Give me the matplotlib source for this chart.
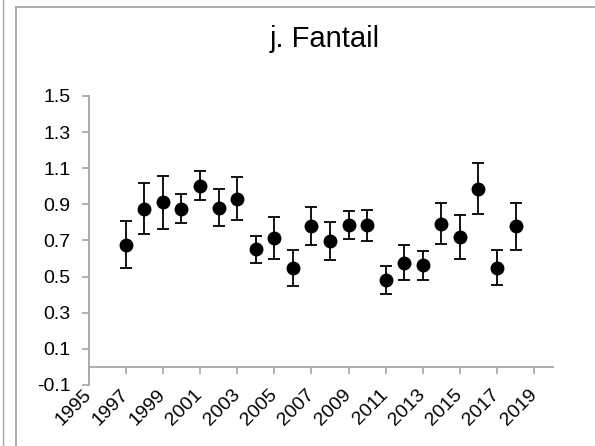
import matplotlib.pyplot as plt
from matplotlib.lines import Line2D

plt.rcParams['font.family'] = ['Liberation Sans', 'DejaVu Sans']

# annual index for fantail with error (half-width of bars)
years = [1997, 1998, 1999, 2000, 2001, 2002, 2003, 2004, 2005, 2006, 2007,
         2008, 2009, 2010, 2011, 2012, 2013, 2014, 2015, 2016, 2017, 2018]
index = [0.675, 0.876, 0.911, 0.876, 1.002, 0.882, 0.931, 0.650, 0.714, 0.548, 0.778,
         0.696, 0.784, 0.784, 0.481, 0.577, 0.563, 0.792, 0.718, 0.987, 0.548, 0.778]
err = [0.130, 0.140, 0.147, 0.082, 0.080, 0.100, 0.120, 0.074, 0.118, 0.101, 0.106,
       0.107, 0.078, 0.087, 0.078, 0.098, 0.080, 0.113, 0.121, 0.139, 0.097, 0.130]

year_ticks = list(range(1995, 2020, 2))
y_ticks = [-0.1, 0.1, 0.3, 0.5, 0.7, 0.9, 1.1, 1.3, 1.5]

fig = plt.figure(figsize=(5.95, 4.46), dpi=100)
ax = fig.add_axes([0.149, 0.137, 0.78, 0.648])

ax.errorbar(years, index, yerr=err, fmt='o', color='black', markersize=9,
            elinewidth=1.3, capsize=4, capthick=1.3)

ax.set_xlim(1995, 2020)
ax.set_ylim(-0.1, 1.5)
ax.set_xticks(year_ticks)
ax.set_yticks(y_ticks)
ax.set_yticklabels(['%.1f' % v for v in y_ticks])

axis_grey = '#a6a6a6'
for side in ['top', 'right']:
    ax.spines[side].set_visible(False)
ax.spines['left'].set_color(axis_grey)
ax.spines['left'].set_linewidth(1.3)
ax.spines['bottom'].set_color(axis_grey)
ax.spines['bottom'].set_linewidth(1.3)
ax.spines['bottom'].set_position(('data', 0))

ax.tick_params(axis='y', direction='out', length=5, width=1.2, color=axis_grey,
               labelsize=14, pad=8)
ax.tick_params(axis='x', direction='out', length=5, width=1.2, color=axis_grey,
               labelsize=14, pad=13)
for lbl in ax.get_xticklabels():
    lbl.set_rotation(45)
    lbl.set_ha('right')
    lbl.set_va('center')
    lbl.set_rotation_mode('anchor')

fig.text(0.546, 0.895, 'j. Fantail', fontsize=21, ha='center', va='baseline')

# panel frame
fig.add_artist(Line2D([16 / 595, 1], [1 - 7 / 446, 1 - 7 / 446],
                      color=axis_grey, linewidth=1.3))
fig.add_artist(Line2D([16 / 595, 16 / 595], [0, 1 - 7 / 446],
                      color=axis_grey, linewidth=1.3))
fig.add_artist(Line2D([3 / 595, 3 / 595], [0, 1], color=axis_grey, linewidth=1.0))

fig.savefig('out.png', dpi=100)
